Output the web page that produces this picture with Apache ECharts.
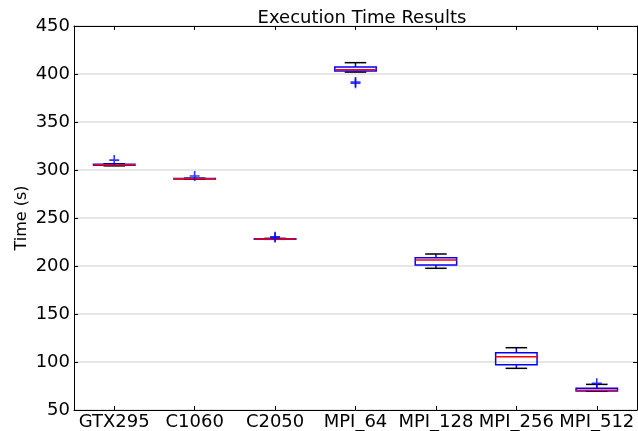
<!DOCTYPE html>
<html>
<head>
<meta charset="utf-8">
<script src="https://cdn.jsdelivr.net/npm/echarts@6/dist/echarts.min.js"></script>
<style>html,body{margin:0;padding:0;background:#fff}#chart{width:638px;height:431px}</style>
</head>
<body>
<div id="chart"></div>
<script>
const categories = ['GTX295', 'C1060', 'C2050', 'MPI_64', 'MPI_128', 'MPI_256', 'MPI_512'];
const whiskerLow  = [304.3, 290.4, 227.8, 402.0, 197.6, 93.4, 69.5];
const quartile1   = [305.0, 290.6, 228.0, 403.1, 201.0, 97.2, 69.8];
const medians     = [305.5, 290.9, 228.2, 404.5, 206.3, 105.5, 70.5];
const quartile3   = [306.0, 291.2, 228.5, 407.3, 208.7, 109.7, 72.6];
const whiskerHigh = [306.5, 291.5, 228.8, 411.8, 212.5, 114.9, 76.7];
const outlierCat  = [0, 1, 2, 2, 3, 3, 6];
const outlierVal  = [310.3, 293.7, 229.6, 230.4, 390.3, 391.6, 77.9];
const yTicks = [50, 100, 150, 200, 250, 300, 350, 400, 450];

const FONT = 'DejaVu Sans';
const boxData = categories.map((c, i) => [i, whiskerLow[i], quartile1[i], medians[i], quartile3[i], whiskerHigh[i]]);
const outlierData = outlierCat.map((c, i) => [c, outlierVal[i]]);

const chart = echarts.init(document.getElementById('chart'));
const axisLine = {show: true, lineStyle: {color: '#000', width: 1}};
chart.setOption({
  animation: false,
  backgroundColor: '#fff',
  title: {
    text: 'Execution Time Results', left: 357, top: 4, textAlign: 'center',
    textStyle: {fontFamily: FONT, fontSize: 18, fontWeight: 'normal', color: '#000'}
  },
  grid: {left: 74, right: 1, top: 26, bottom: 21},
  xAxis: [{
    type: 'category', data: categories, boundaryGap: true,
    axisLine: axisLine,
    axisTick: {show: true, inside: true, alignWithLabel: true, length: 4, lineStyle: {color: '#000'}},
    axisLabel: {fontFamily: FONT, fontSize: 18, color: '#000', margin: 3, interval: 0},
    splitLine: {show: false}
  }, {
    type: 'category', data: categories, position: 'top', boundaryGap: true,
    axisLine: axisLine,
    axisTick: {show: true, inside: true, alignWithLabel: true, length: 4, lineStyle: {color: '#000'}},
    axisLabel: {show: false}, splitLine: {show: false}
  }],
  yAxis: [{
    type: 'value', min: yTicks[0], max: yTicks[yTicks.length - 1], interval: 50,
    name: 'Time (s)', nameLocation: 'middle', nameGap: 44, nameMoveOverlap: false,
    nameTextStyle: {fontFamily: FONT, fontSize: 16, color: '#000'},
    axisLine: axisLine,
    axisTick: {show: true, inside: true, length: 4, lineStyle: {color: '#000'}},
    axisLabel: {fontFamily: FONT, fontSize: 18, color: '#000', margin: 4},
    splitLine: {show: true, lineStyle: {color: '#dedede', width: 1.5}}
  }, {
    type: 'value', min: yTicks[0], max: yTicks[yTicks.length - 1], interval: 50, position: 'right',
    axisLine: axisLine,
    axisTick: {show: true, inside: true, length: 4, lineStyle: {color: '#000'}},
    axisLabel: {show: false}, splitLine: {show: false}
  }],
  series: [{
    type: 'custom',
    xAxisIndex: 0, yAxisIndex: 0,
    data: boxData,
    renderItem: function (params, api) {
      const x = api.value(0);
      const pLow = api.coord([x, api.value(1)]);
      const pQ1 = api.coord([x, api.value(2)]);
      const pMed = api.coord([x, api.value(3)]);
      const pQ3 = api.coord([x, api.value(4)]);
      const pHigh = api.coord([x, api.value(5)]);
      const band = api.size([1, 0])[0];
      const bw = band * 0.515, cw = bw * 0.52;
      const cx = pMed[0];
      const blue = {stroke: '#0000ff', lineWidth: 1.5, fill: null};
      const black = {stroke: '#000', lineWidth: 1.5};
      return {
        type: 'group',
        children: [
          {type: 'line', shape: {x1: cx, y1: pQ3[1], x2: cx, y2: pHigh[1]}, style: blue},
          {type: 'line', shape: {x1: cx, y1: pQ1[1], x2: cx, y2: pLow[1]}, style: blue},
          {type: 'line', shape: {x1: cx - cw / 2, y1: pHigh[1], x2: cx + cw / 2, y2: pHigh[1]}, style: black},
          {type: 'line', shape: {x1: cx - cw / 2, y1: pLow[1], x2: cx + cw / 2, y2: pLow[1]}, style: black},
          {type: 'rect', shape: {x: cx - bw / 2, y: pQ3[1], width: bw, height: Math.max(pQ1[1] - pQ3[1], 0.5)}, style: blue},
          {type: 'line', shape: {x1: cx - bw / 2, y1: pMed[1], x2: cx + bw / 2, y2: pMed[1]}, style: {stroke: '#ff0000', lineWidth: 1.5}}
        ]
      };
    }
  }, {
    type: 'scatter',
    xAxisIndex: 0, yAxisIndex: 0,
    data: outlierData,
    symbol: 'path://M4.2,0 L5.8,0 L5.8,4.2 L10,4.2 L10,5.8 L5.8,5.8 L5.8,10 L4.2,10 L4.2,5.8 L0,5.8 L0,4.2 L4.2,4.2 Z',
    symbolSize: 10,
    itemStyle: {color: '#0000ff'},
    z: 5
  }]
});
</script>
</body>
</html>
